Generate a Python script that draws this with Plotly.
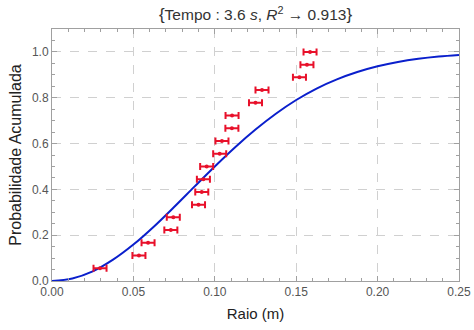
import plotly.graph_objects as go

# Observed data (radius in m, cumulative probability)
radius = [0.0295, 0.0534, 0.0590, 0.0730, 0.0745, 0.0900, 0.0920, 0.0930, 0.0950,
          0.1030, 0.1044, 0.1105, 0.1106, 0.1250, 0.1290, 0.1520, 0.1566, 0.1585]
prob = [1/18, 2/18, 3/18, 4/18, 5/18, 6/18, 7/18, 8/18, 9/18,
        10/18, 11/18, 12/18, 13/18, 14/18, 15/18, 16/18, 17/18, 18/18]
radius_err = [0.004] * 18

# Fitted curve, values
curve_x = [0, 0.0125, 0.025, 0.0375, 0.05, 0.0625, 0.075, 0.0875, 0.1, 0.1125, 0.125,
           0.1375, 0.15, 0.1625, 0.175, 0.1875, 0.2, 0.2125, 0.225, 0.2375, 0.25]
curve_y = [0, 0.011, 0.042, 0.093, 0.159, 0.237, 0.323, 0.412, 0.5, 0.584, 0.661,
           0.730, 0.79, 0.840, 0.880, 0.912, 0.937, 0.956, 0.970, 0.980, 0.987]

x_ticks = [0, 0.05, 0.10, 0.15, 0.20, 0.25]
x_labels = ["0.00", "0.05", "0.10", "0.15", "0.20", "0.25"]
y_ticks = [0, 0.2, 0.4, 0.6, 0.8, 1.0]
y_labels = ["0.0", "0.2", "0.4", "0.6", "0.8", "1.0"]

fig = go.Figure()
fig.add_trace(go.Scatter(
    x=curve_x, y=curve_y, mode="lines", line=dict(color="#0a1fcc", width=2, shape="spline"),
    hoverinfo="skip", showlegend=False))
fig.add_trace(go.Scatter(
    x=radius, y=prob, mode="markers",
    marker=dict(color="#e8102a", size=4),
    error_x=dict(type="data", array=radius_err, color="#e8102a", thickness=2, width=3.5),
    showlegend=False))

axis_common = dict(
    showline=True, linecolor="#a0a0a0", linewidth=1, mirror="allticks",
    ticks="inside", ticklen=5, tickcolor="#a0a0a0", automargin=False,
    showgrid=True, gridcolor="#d0d0d0", griddash="dash", gridwidth=1,
    zeroline=False, tickfont=dict(family="Liberation Sans, Arial", size=12, color="#555555"),
)

fig.update_layout(
    width=474, height=330,
    margin=dict(l=52, r=15, t=29, b=49),
    plot_bgcolor="white", paper_bgcolor="white",
    title=dict(text="<span style='font-size:17px'>{</span>Tempo : 3.6 <i>s</i>, <i>R</i><sup>2</sup> → 0.913<span style='font-size:17px'>}</span>",
               x=0.5, xref="paper", xanchor="center", yref="container", y=0.955, yanchor="middle",
               font=dict(family="Liberation Sans, Arial", size=15.5, color="#333333")),
    xaxis=dict(axis_common, range=[0, 0.25], tickvals=x_ticks, ticktext=x_labels,
               minor=dict(ticks="inside", dtick=0.01, ticklen=3, tickcolor="#a0a0a0", showgrid=False),
               title=dict(text="Raio (m)", standoff=10,
                          font=dict(family="Liberation Sans, Arial", size=15, color="#222222"))),
    yaxis=dict(axis_common, range=[0, 1.1], tickvals=y_ticks, ticktext=y_labels,
               minor=dict(ticks="inside", dtick=0.05, ticklen=3, tickcolor="#a0a0a0", showgrid=False),
               title=dict(text="Probabilidade Acumulada", standoff=6,
                          font=dict(family="Liberation Sans, Arial", size=16, color="#222222"))),
)

fig.write_html("out.html")
